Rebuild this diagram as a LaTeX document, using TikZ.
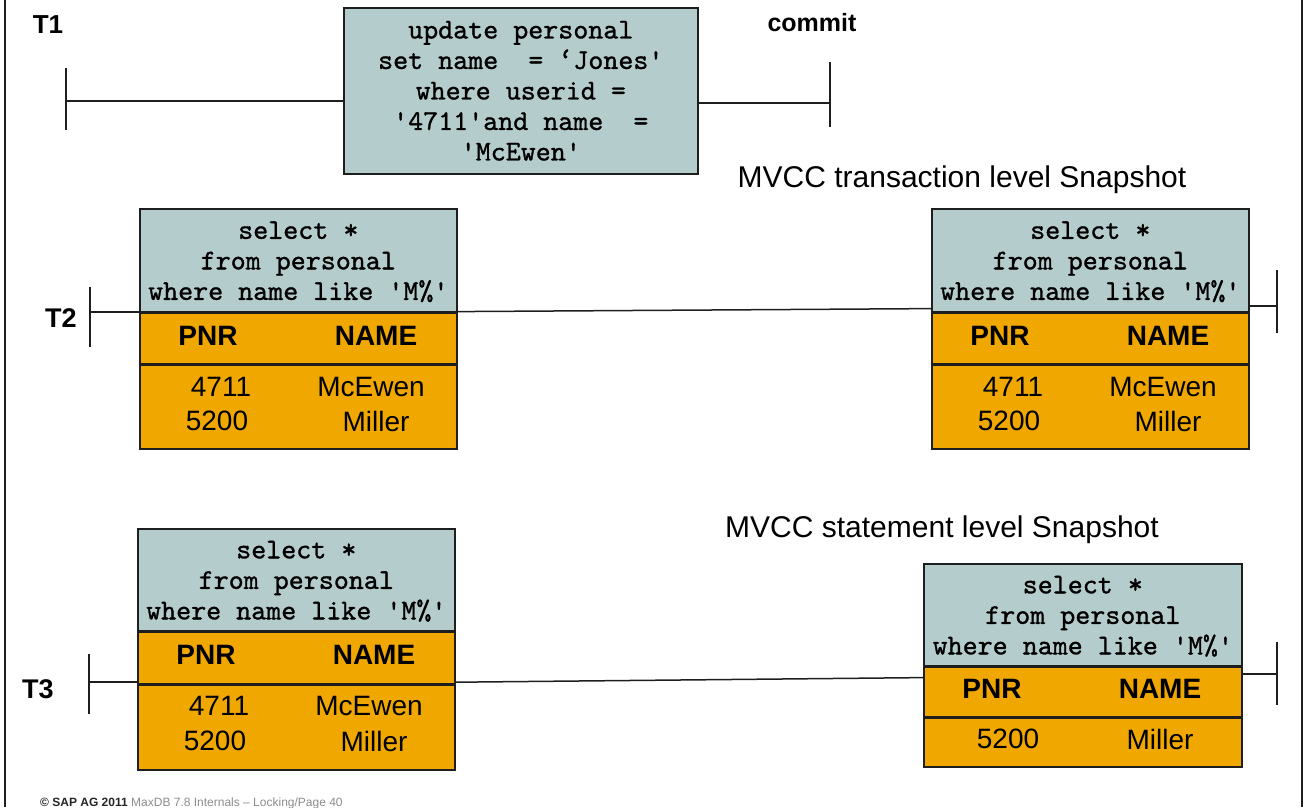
\documentclass[tikz,border=0pt]{standalone}
\usepackage{fontspec}
\setmainfont{Liberation Sans}
\newfontfamily\codefont{lmmono10-regular.otf}[FakeBold=1.0]
\usetikzlibrary{calc}

\definecolor{querygrey}{HTML}{B5CCCC}
\definecolor{rowamber}{HTML}{F0A800}
\definecolor{inkline}{HTML}{1E1E1E}

\tikzset{
  querybox/.style={draw=inkline, line width=1.6pt, fill=querygrey, inner sep=0pt, anchor=north west},
  headbox/.style={draw=inkline, line width=1.6pt, fill=rowamber, inner sep=0pt, anchor=north west},
  bodybox/.style={draw=inkline, line width=1.6pt, fill=rowamber, inner sep=0pt, anchor=north west},
  codetext/.style={inner sep=0pt, align=center, font=\codefont\fontsize{28.6}{30.5}\selectfont},
  headtext/.style={inner sep=0pt, font=\bfseries\fontsize{28}{30}\selectfont},
  celltext/.style={inner sep=0pt, font=\fontsize{28}{30}\selectfont},
  txlabel/.style={inner sep=0pt, anchor=base, font=\bfseries\fontsize{26}{28}\selectfont},
  heading/.style={inner sep=0pt, anchor=base, font=\fontsize{30}{32}\selectfont},
  footnote/.style={inner sep=0pt, anchor=base west, font=\fontsize{12}{14}\selectfont},
  timeline/.style={draw=inkline, line width=1.5pt},
  tick/.style={draw=inkline, line width=1.8pt},
  frameline/.style={draw=inkline, line width=2pt}
}

% query box + column header of a result table
% #1 name prefix, #2 left x, #3 top y, #4 width, #5 query height, #6 header height
\newcommand\snaptable[6]{%
  \node[querybox, minimum width=#4pt, minimum height=#5pt] (#1q) at (#2,#3) {};
  \node[codetext] (#1c) at ($(#1q.center)+(0,1.5)$) {select *\\from personal\\where name like 'M\%'};
  \node[headbox, minimum width=#4pt, minimum height=#6pt] (#1h) at (#1q.south west) {};
  \node[headtext] (#1p) at ($(#1h.west)+(69,-3)$) {PNR};
  \node[headtext] (#1n) at ($(#1h.west)+(237,-3)$) {NAME};
}

\begin{document}
\begin{tikzpicture}[x=1pt, y=-1pt]
\useasboundingbox (0,0) rectangle (1308,807);

% page frame
\draw[frameline] (5,0) -- (5,807);
\draw[frameline] (1302,0) -- (1302,807);

% ---------- T1: update and commit ----------
\node[txlabel] (t1lab) at (48,33) {T1};
\node[querybox, minimum width=354pt, minimum height=166pt] (t1) at (343,7) {};
\node[codetext] (t1code) at (t1.center) {update personal\\set name\ \ = ‘Jones'\\where userid =\\'4711'and name\ \ =\\'McEwen'};
\node[txlabel, font=\bfseries\fontsize{25}{27}\selectfont] (commit) at (812,31) {commit};

\coordinate (t1a) at (66,101);
\coordinate (t1b) at (830,103);
\coordinate (t1a1) at (66,68);  \coordinate (t1a2) at (66,130);
\coordinate (t1b1) at (830,62); \coordinate (t1b2) at (830,127);
\draw[tick] (t1a1) -- (t1a2);
\draw[tick] (t1b1) -- (t1b2);
\draw[timeline] (t1a) -- (t1a -| t1.west);
\draw[timeline] (t1b -| t1.east) -- (t1b);

% ---------- T2: transaction level snapshot ----------
\node[heading] (mvcc1) at (962,187) {MVCC transaction level Snapshot};
\node[txlabel, font=\bfseries\fontsize{27}{29}\selectfont] (t2lab) at (61,327) {T2};

\snaptable{tl}{139}{208}{317}{103}{50}
\node[bodybox, minimum width=317pt, minimum height=84pt] (tlb) at (tlh.south west) {};
\node[celltext] (tlr1a) at ($(tlb.north west)+(82,23)$) {4711};
\node[celltext] (tlr1b) at ($(tlb.north west)+(232,23)$) {McEwen};
\node[celltext] (tlr2a) at ($(tlb.north west)+(78,57)$) {5200};
\node[celltext] (tlr2b) at ($(tlb.north west)+(237,57)$) {Miller};

\snaptable{tr}{931}{208}{317}{103}{50}
\node[bodybox, minimum width=317pt, minimum height=84pt] (trb) at (trh.south west) {};
\node[celltext] (trr1a) at ($(trb.north west)+(82,23)$) {4711};
\node[celltext] (trr1b) at ($(trb.north west)+(232,23)$) {McEwen};
\node[celltext] (trr2a) at ($(trb.north west)+(78,57)$) {5200};
\node[celltext] (trr2b) at ($(trb.north west)+(237,57)$) {Miller};

\coordinate (t2a) at (90,312);
\coordinate (t2b) at (1277,306);
\coordinate (t2a1) at (90,287);   \coordinate (t2a2) at (90,347);
\coordinate (t2b1) at (1277,270); \coordinate (t2b2) at (1277,333);
\draw[tick] (t2a1) -- (t2a2);
\draw[tick] (t2b1) -- (t2b2);
\draw[timeline] (t2a) -- (t2a -| tlq.west);
\draw[timeline] ($(tlh.north east)+(0,-1)$) -- ($(trh.north west)+(0,-4)$);
\draw[timeline] (t2b -| trq.east) -- (t2b);

% ---------- T3: statement level snapshot ----------
\node[heading] (mvcc2) at (942,537) {MVCC statement level Snapshot};
\node[txlabel, font=\bfseries\fontsize{27}{29}\selectfont] (t3lab) at (38,698) {T3};

\snaptable{sl}{137}{528}{317}{102}{51}
\node[bodybox, minimum width=317pt, minimum height=85pt] (slb) at (slh.south west) {};
\node[celltext] (slr1a) at ($(slb.north west)+(82,22)$) {4711};
\node[celltext] (slr1b) at ($(slb.north west)+(232,22)$) {McEwen};
\node[celltext] (slr2a) at ($(slb.north west)+(78,57)$) {5200};
\node[celltext] (slr2b) at ($(slb.north west)+(237,57)$) {Miller};

\snaptable{sr}{923}{563}{318}{102}{49}
\node[bodybox, minimum width=318pt, minimum height=49pt] (srb) at (srh.south west) {};
\node[celltext] (srr1a) at ($(srb.north west)+(85,22)$) {5200};
\node[celltext] (srr1b) at ($(srb.north west)+(237,22)$) {Miller};

\coordinate (t3a) at (89,682);
\coordinate (t3b) at (1277,674);
\coordinate (t3a1) at (89,654);   \coordinate (t3a2) at (89,714);
\coordinate (t3b1) at (1277,642); \coordinate (t3b2) at (1277,705);
\draw[tick] (t3a1) -- (t3a2);
\draw[tick] (t3b1) -- (t3b2);
\draw[timeline] (t3a) -- (t3a -| slh.west);
\draw[timeline] ($(slh.south east)+(0,-2)$) -- ($(srh.north west)+(0,11)$);
\draw[timeline] (t3b -| srh.east) -- (t3b);

% ---------- footer ----------
\node[footnote, text=black!85, font=\bfseries\fontsize{12}{14}\selectfont] (copy) at (40,806) {© SAP AG 2011};
\node[footnote, text=black!45] (foot) at (131,806) {MaxDB 7.8 Internals – Locking/Page 40};
\end{tikzpicture}
\end{document}
